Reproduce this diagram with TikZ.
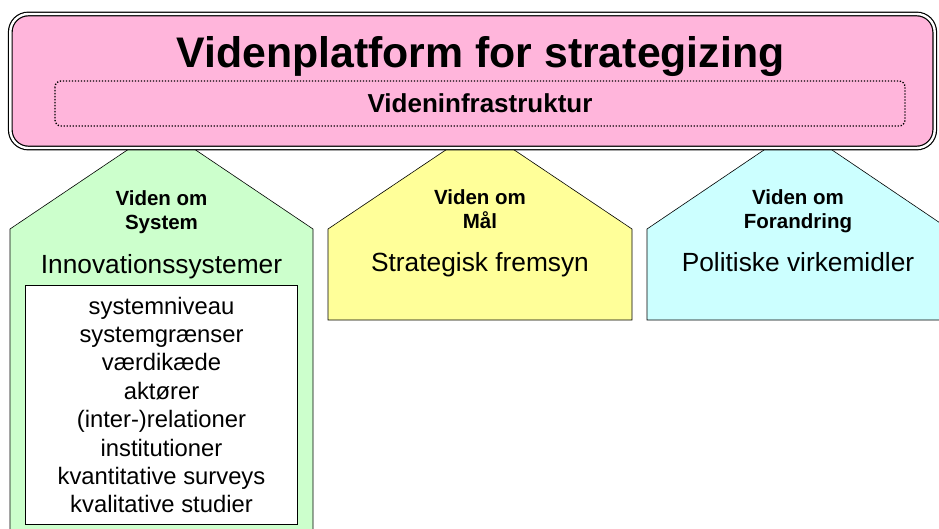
\documentclass[tikz,border=0pt]{standalone}
\usepackage{fontspec}
\setmainfont{Liberation Sans}
\definecolor{pinkfill}{RGB}{255,181,219}
\definecolor{greenfill}{RGB}{204,255,204}
\definecolor{yellowfill}{RGB}{255,255,153}
\definecolor{cyanfill}{RGB}{204,255,255}
\begin{document}
\begin{tikzpicture}[x=1pt,y=-1pt,
  pent/.style={draw=black, line width=0.6pt},
  hd/.style={font=\fontsize{20.5}{24.5}\selectfont\bfseries, align=center, anchor=base, inner sep=0pt},
  sub/.style={font=\fontsize{26.3}{30}\selectfont, anchor=base, inner sep=0pt},
  listbox/.style={draw=black, line width=1.6pt, fill=white, minimum width=272pt, minimum height=239pt, inner sep=0pt, align=center, font=\fontsize{23.8}{28.4}\selectfont}]
\useasboundingbox (0,0) rectangle (939,529);
\fill[white] (0,0) rectangle (939,529);
% pentagons
\path[pent, fill=greenfill] (161.5,127) -- (313,229) -- (313,545) -- (10,545) -- (10,229) -- cycle;
\path[pent, fill=yellowfill] (480,127) -- (632,229) -- (632,320) -- (328,320) -- (328,229) -- cycle;
\path[pent, fill=cyanfill] (798,127) -- (949,229) -- (949,320) -- (647,320) -- (647,229) -- cycle;
% platform box
\path[draw=black, fill=pinkfill, line width=1.2pt, double=white, double distance=2.4pt, rounded corners=18pt] (10.3,14) rectangle (934.7,148);
\draw[line width=1.3pt, dash pattern=on 1.3pt off 1.7pt, rounded corners=6pt] (55,81) rectangle (905,126);
\node[font=\fontsize{42.8}{50}\selectfont\bfseries, anchor=base, inner sep=0pt] (title) at (480.5,68) {Videnplatform for strategizing};
\node[font=\fontsize{26}{30}\selectfont\bfseries, anchor=base, inner sep=0pt] (infra) at (480,113) {Videninfrastruktur};
% headings (anchor base = baseline of last line)
\node[hd] (hsys) at (161.5,230) {Viden om\\System};
\node[hd] (hmaal) at (480,229) {Viden om\\Mål};
\node[hd] (hfor) at (798,229) {Viden om\\Forandring};
\node[sub] (innov) at (161.5,273) {Innovationssystemer};
\node[sub] (strat) at (480,272) {Strategisk fremsyn};
\node[sub] (polit) at (798,272) {Politiske virkemidler};
\node[listbox] (list) at (161.5,405) {systemniveau\\systemgrænser\\værdikæde\\aktører\\(inter-)relationer\\institutioner\\kvantitative surveys\\kvalitative studier};
\end{tikzpicture}
\end{document}
